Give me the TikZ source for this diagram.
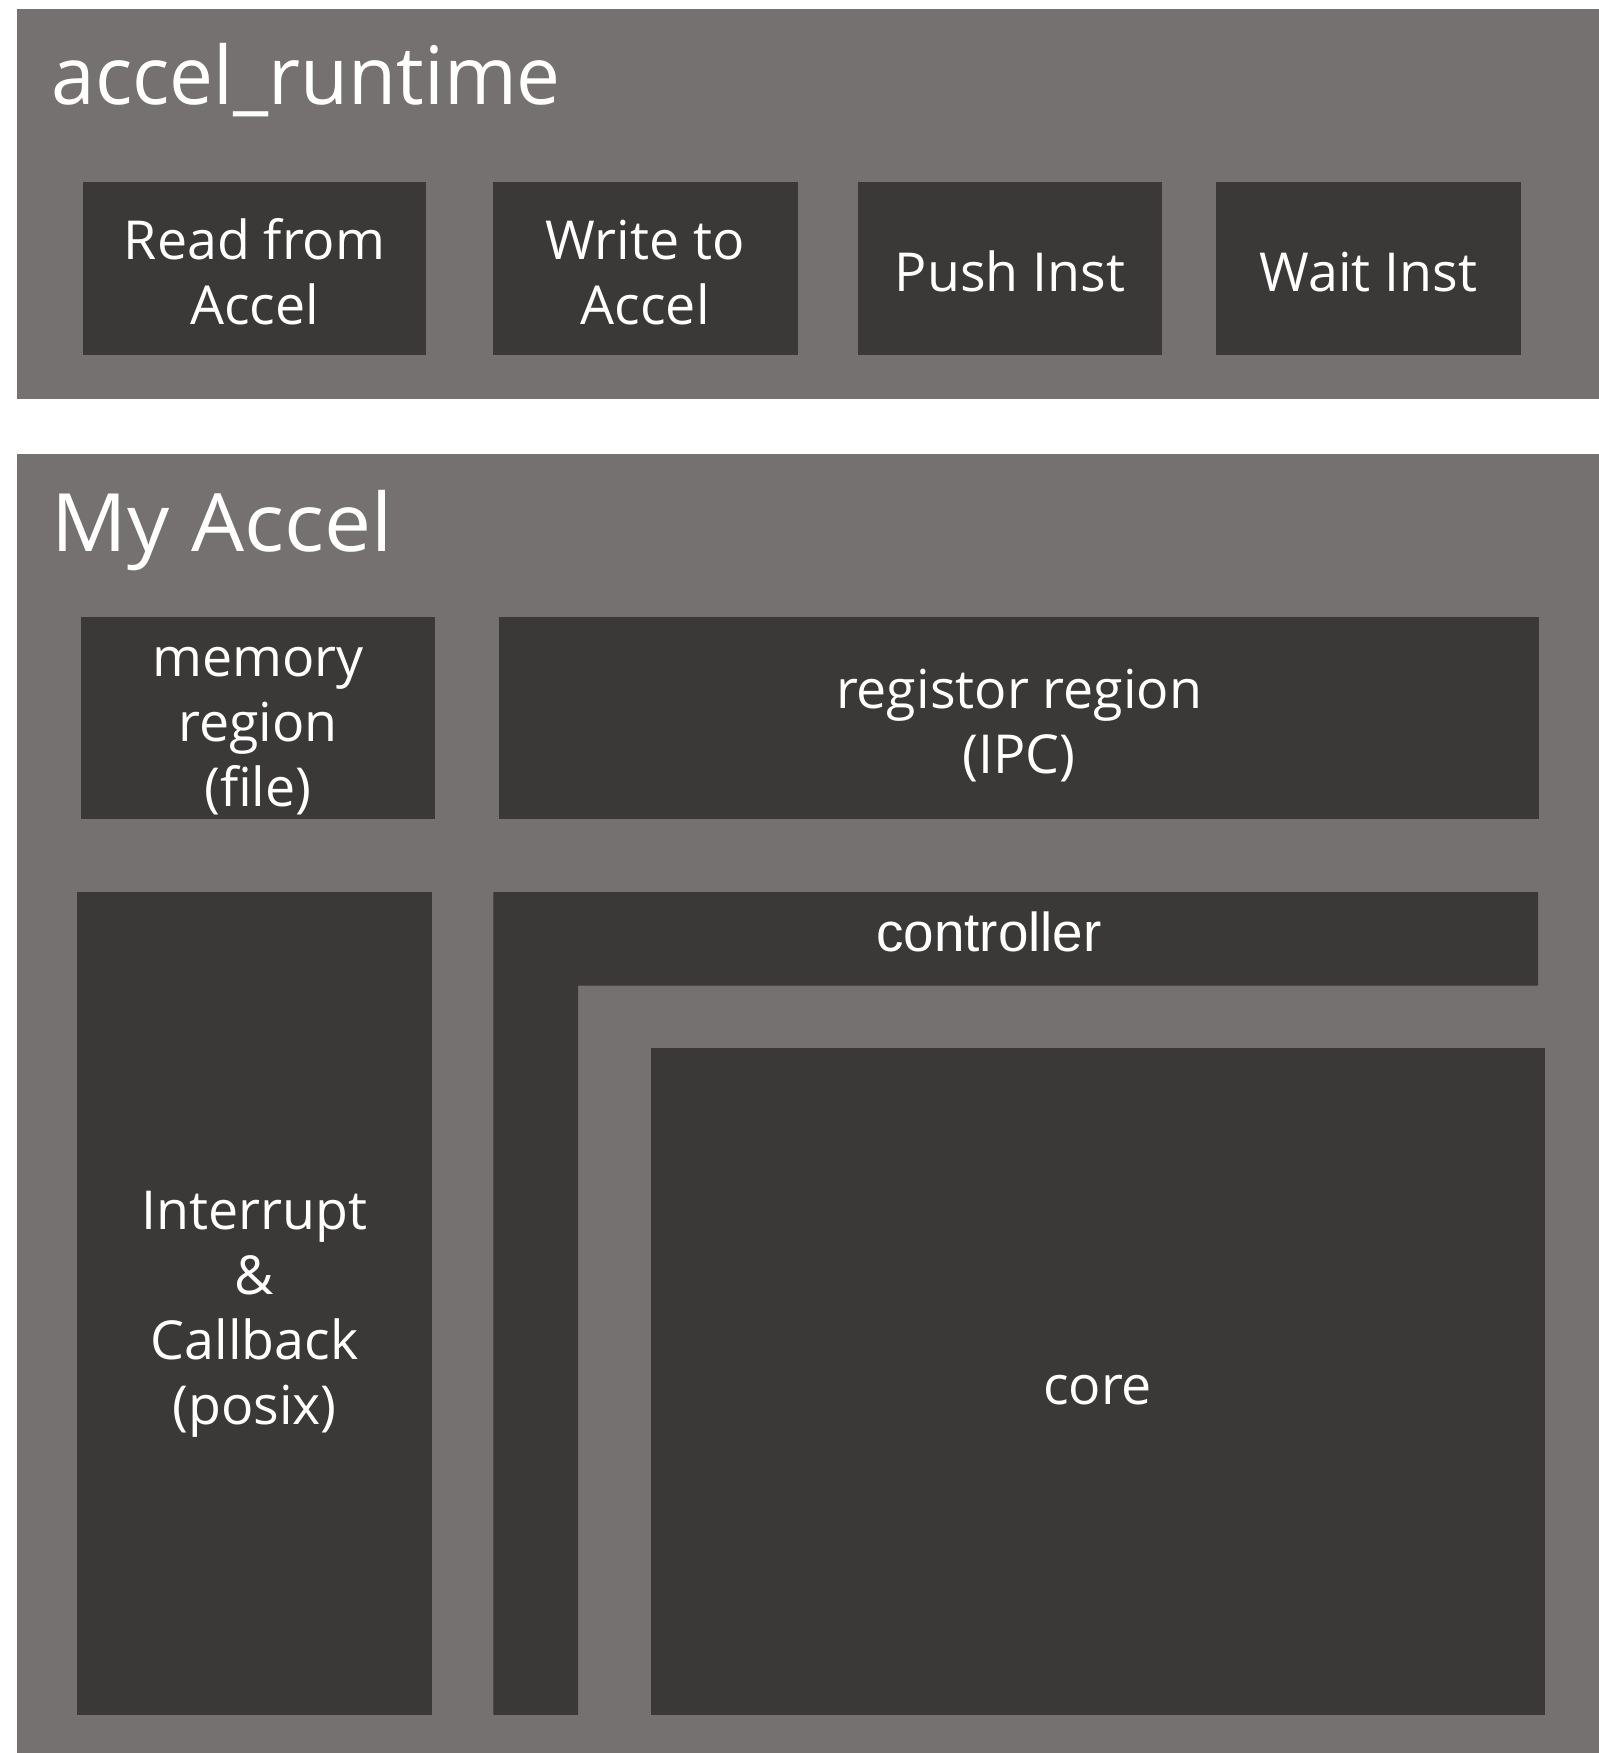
\documentclass[tikz,border=0pt]{standalone}
\usepackage{fontspec}
\setmainfont{Open Sans}
\newfontfamily\ctrlfont{Liberation Sans}
\definecolor{outergray}{HTML}{767171}
\definecolor{innerdark}{HTML}{3B3838}
\newcommand\mline[1]{\rule[-8pt]{0pt}{58pt}\smash{#1}}
\tikzset{
  panel/.style={fill=outergray, draw=none},
  blk/.style={fill=innerdark, draw=none, inner sep=0pt, outer sep=0pt, text=white,
    align=center, font=\fontsize{48}{58}\selectfont},
  ttl/.style={text=white, inner sep=0pt, anchor=base west, font=\fontsize{72}{80}\selectfont},
}
\begin{document}
\begin{tikzpicture}[x=1pt,y=-1pt]
\useasboundingbox (0,0) rectangle (1429,1567);
% panels
\fill[panel] (15,8) rectangle (1429,357);
\fill[panel] (15,405.7) rectangle (1429,1567);
\node[ttl] (t1) at (46,93) {\scalebox{0.972}[1]{accel\_runtime}};
\node[ttl] (t2) at (46,493) {\scalebox{1.04}[1]{My Accel}};
% accel_runtime blocks
\node[blk, minimum width=306.8pt, minimum height=154pt] (rd) at (227.6,240) {\mline{Read from}\\\mline{Accel}};
\node[blk, minimum width=272.5pt, minimum height=154pt] (wr) at (576.75,240) {\mline{Write to}\\\mline{Accel}};
\node[blk, minimum width=272.3pt, minimum height=154pt] (push) at (902.85,240) {\mline{Push Inst}};
\node[blk, minimum width=273.3pt, minimum height=154pt] (wait) at (1223.35,240) {\mline{Wait Inst}};
% My Accel blocks
\node[blk, minimum width=316pt, minimum height=180.6pt] (mem) at (230.5,641.7) {\mline{memory}\\\mline{region}\\\mline{(file)}};
\node[blk, minimum width=930pt, minimum height=180.6pt] (reg) at (911,641.7) {\mline{registor region}\\\mline{(IPC)}};
\node[blk, minimum width=317pt, minimum height=735.5pt] (intr) at (227.5,1165.25) {\mline{Interrupt}\\\mline{\&}\\\mline{Callback}\\\mline{(posix)}};
% controller L-shape
\fill[innerdark] (441,797.5) -- (1375,797.5) -- (1375,881) -- (516.7,881) -- (516.7,1533) -- (441,1533) -- cycle;
\node[text=white, inner sep=0pt, anchor=base, font=\ctrlfont\fontsize{49}{58}\selectfont] (ctrl) at (884,850.5) {controller};
% core
\node[blk, minimum width=799.2pt, minimum height=596.1pt] (core) at (981.1,1234.55) {\mline{core}};
\end{tikzpicture}
\end{document}
